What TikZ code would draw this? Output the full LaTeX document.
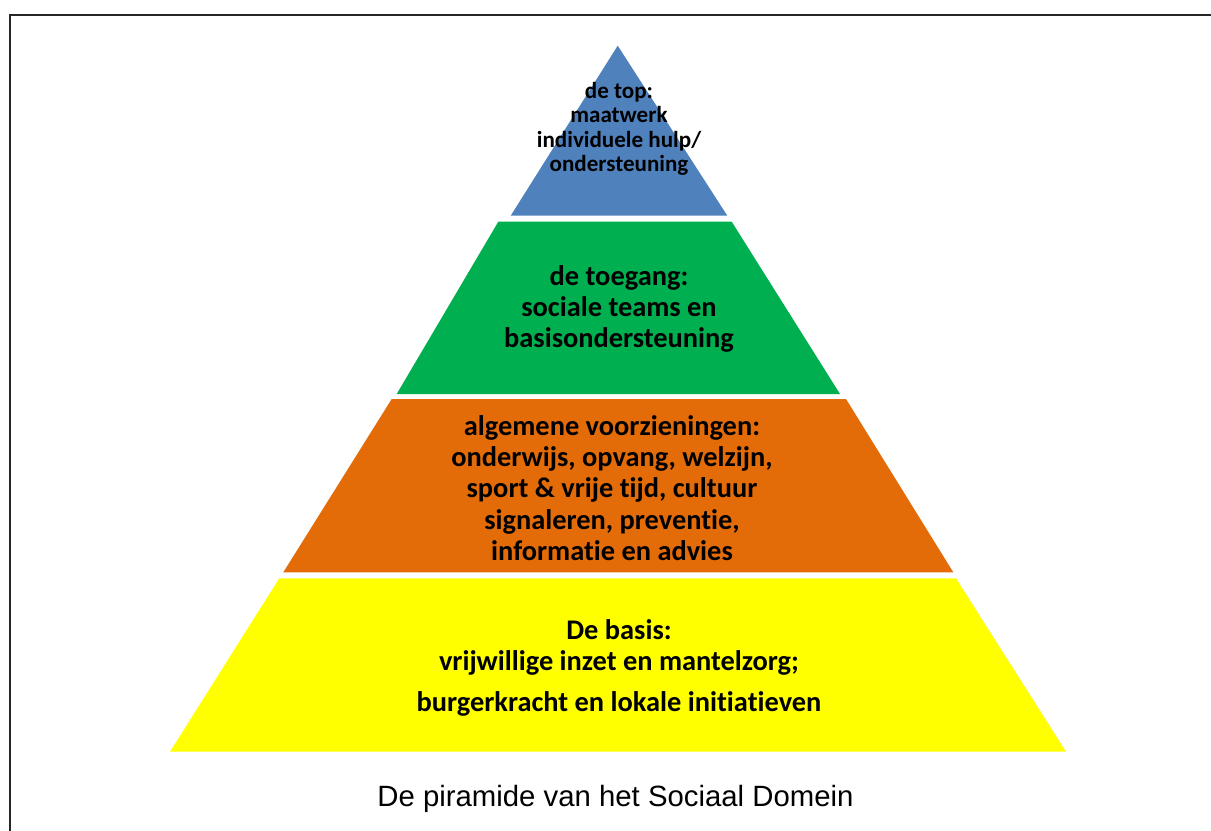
\documentclass[tikz,border=0pt]{standalone}
\usepackage{fontspec}
\setmainfont[Ligatures={NoCommon,NoContextual},Contextuals=NoAlternate]{Carlito}
\newfontfamily\capfont{Liberation Sans}
\newcommand\tI{t\kern0pt i}
\definecolor{pblue}{HTML}{4F81BD}
\definecolor{pgreen}{HTML}{00B050}
\definecolor{porange}{HTML}{E36C09}
\definecolor{pyellow}{HTML}{FFFF00}
\begin{document}
\begin{tikzpicture}[x=0.75pt,y=-0.75pt,
  layertext/.style={font=\bfseries\fontsize{21.3}{23.5}\selectfont, align=center, inner sep=0pt, text=black},
  toptext/.style={font=\bfseries\fontsize{17.3}{18.3}\selectfont, align=center, inner sep=0pt, text=black},
  frame/.style={line width=1.6pt, draw=black!85}]
\useasboundingbox (0,0) rectangle (1211,831);
\fill[white] (0,0) rectangle (1211,831);
\draw[frame] (10,831) -- (10,15) -- (1211,15);
% layers
\fill[pblue] (617.7,45.7) -- (727.3,215.7) -- (510.7,215.7) -- cycle;
\fill[pgreen] (498.3,221.7) -- (731.7,221.7) -- (840,394) -- (396.7,394) -- cycle;
\fill[porange] (391.7,399) -- (846,399) -- (953.3,572.3) -- (283.3,572.3) -- cycle;
\fill[pyellow] (279.3,578.3) -- (956,578.3) -- (1066,751.7) -- (170,751.7) -- cycle;
% texts
\node[toptext] (top) at (619,129) {de top:\\maatwerk\\individuele hulp/\\ondersteuning};
\node[layertext] (toegang) at (619,309) {de toegang:\\sociale teams en\\basisondersteuning};
\node[layertext] (algemeen) at (612,488) {algemene voorzieningen:\\onderwijs, opvang, welzijn,\\sport \& vrije \tI jd, cultuur\\signaleren, preven\tI e,\\informa\tI e en advies};
\node[layertext] (basis) at (619,668) {De basis:\\vrijwillige inzet en mantelzorg;\\[7pt]burgerkracht en lokale ini\tI a\tI even};
\node[font=\capfont\fontsize{22}{26}\selectfont, anchor=base, inner sep=0pt] (caption) at (615.5,806) {De piramide van het Sociaal Domein};
\end{tikzpicture}
\end{document}
